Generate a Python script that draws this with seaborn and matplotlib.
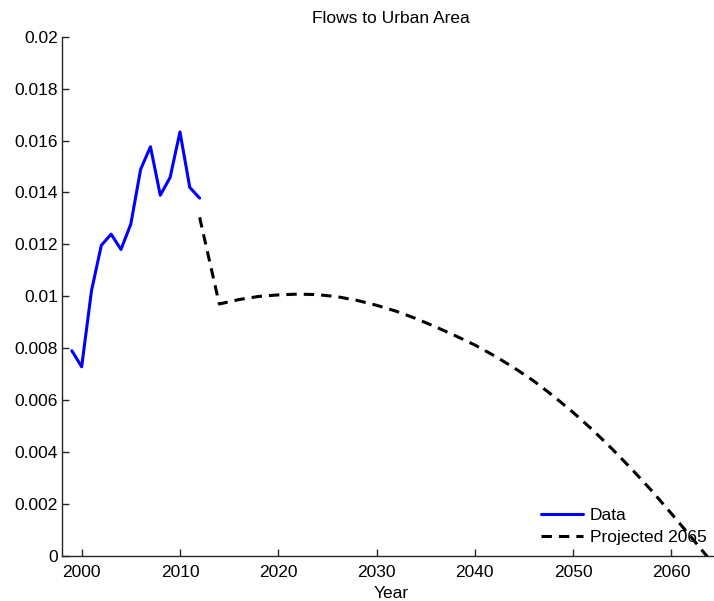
import matplotlib
matplotlib.use("Agg")
import matplotlib.pyplot as plt
import seaborn as sns
import pandas as pd

# Observed flows to urban area
data_years = [1999, 2000, 2001, 2002, 2003, 2004, 2005, 2006, 2007, 2008, 2009, 2010, 2011, 2012]
data_values = [0.00790, 0.00728, 0.01021, 0.01196, 0.01239, 0.01180, 0.01278, 0.01489,
               0.01576, 0.01389, 0.01458, 0.01633, 0.01419, 0.01378]

# Projection out to 2065
proj_years = [2012, 2014, 2016, 2018, 2020, 2022, 2024, 2026, 2028, 2030, 2032, 2034,
              2036, 2038, 2040, 2042, 2044, 2046, 2048, 2050, 2052, 2054, 2056, 2058,
              2060, 2062, 2064]
proj_values = [0.01304, 0.00970, 0.00987, 0.00999, 0.01005, 0.01008, 0.01006, 0.00998,
               0.00984, 0.00965, 0.00942, 0.00914, 0.00882, 0.00848, 0.00812, 0.00770,
               0.00724, 0.00673, 0.00615, 0.00552, 0.00484, 0.00410, 0.00332, 0.00250,
               0.00162, 0.00072, -0.00020]

y_ticks = [0, 0.002, 0.004, 0.006, 0.008, 0.01, 0.012, 0.014, 0.016, 0.018, 0.02]
y_tick_labels = ["0", "0.002", "0.004", "0.006", "0.008", "0.01", "0.012", "0.014",
                 "0.016", "0.018", "0.02"]
x_ticks = [2000, 2010, 2020, 2030, 2040, 2050, 2060]

FS = 12.5

sns.set_style("ticks")
plt.rcParams["font.family"] = ["Liberation Sans", "DejaVu Sans"]
plt.rcParams["font.size"] = FS
plt.rcParams["text.color"] = "black"
plt.rcParams["axes.labelcolor"] = "black"

df_data = pd.DataFrame({"Year": data_years, "Flow": data_values})
df_proj = pd.DataFrame({"Year": proj_years, "Flow": proj_values})

fig = plt.figure(figsize=(7.14, 6.01), dpi=100)
ax = fig.add_axes([62 / 714, (601 - 555.7) / 601, (720.6 - 62) / 714, 519 / 601])

sns.lineplot(data=df_data, x="Year", y="Flow", ax=ax, color=(0, 0, 1), lw=2.2,
             label="Data", estimator=None, sort=False)
sns.lineplot(data=df_proj, x="Year", y="Flow", ax=ax, color="black", lw=2.2,
             label="Projected 2065", estimator=None, sort=False, dashes=False)
ax.lines[1].set_dashes([3.4, 2.3])

ax.set_xlim(1998, 2065)
ax.set_ylim(0, 0.02)
ax.set_yticks(y_ticks)
ax.set_yticklabels(y_tick_labels)
ax.set_xticks(x_ticks)
ax.set_xticklabels([str(t) for t in x_ticks])
ax.tick_params(direction="in", length=5, width=1, color="#262626", labelsize=FS,
               labelcolor="black")
ax.tick_params(axis="x", pad=6.5)
ax.tick_params(axis="y", pad=3)
for side in ["top", "right"]:
    ax.spines[side].set_visible(False)
for side in ["left", "bottom"]:
    ax.spines[side].set_color("#262626")
    ax.spines[side].set_linewidth(1.0)

ax.set_title("Flows to Urban Area", fontsize=FS, pad=10, color="black")
ax.set_xlabel("Year", fontsize=FS, labelpad=4.5, color="black")
ax.set_ylabel("")

leg = ax.legend(loc="lower left", bbox_to_anchor=(541 / 714, (601 - 545) / 601),
                bbox_transform=fig.transFigure, frameon=False, borderpad=0,
                borderaxespad=0, handlelength=2.42, handletextpad=0.4,
                labelspacing=0.39, fontsize=FS)
for t in leg.get_texts():
    t.set_color("black")
for h in leg.get_lines():
    h.set_linewidth(2.2)
leg.get_lines()[1].set_dashes([3.4, 2.3])

fig.savefig("out.png", dpi=100)
